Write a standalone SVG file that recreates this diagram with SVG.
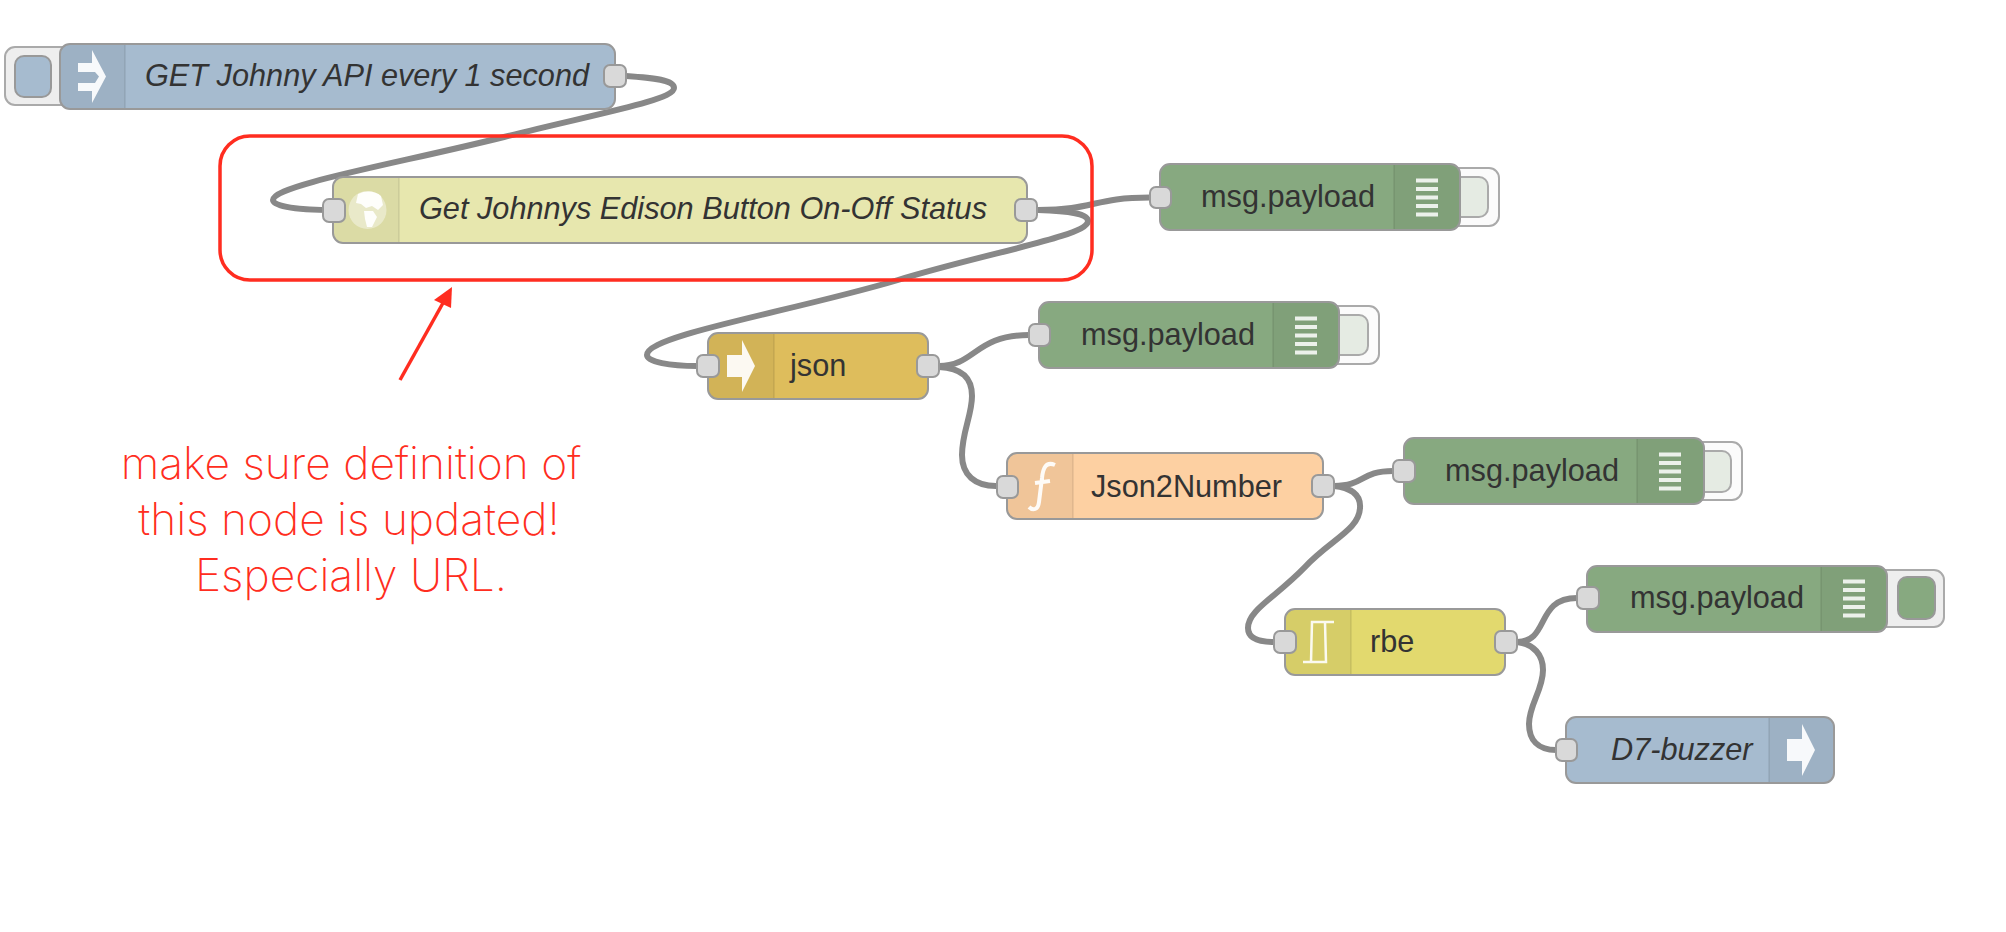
<svg xmlns="http://www.w3.org/2000/svg" xmlns:xlink="http://www.w3.org/1999/xlink" width="2006" height="932" viewBox="0 0 2006 932">
<style>
  .body { stroke: #999; stroke-width: 2; }
  .shade { fill: #000; fill-opacity: .05; }
  .sep { stroke: #000; stroke-opacity: .09; stroke-width: 1.5; }
  .port { fill: #d9d9d9; stroke: #999; stroke-width: 2; }
  .wire { fill: none; stroke: #888; stroke-width: 6; stroke-linecap: round; }
  .label { font-family: "Liberation Sans", Arial, sans-serif; font-size: 30.7px; fill: #333; }
  .it { font-style: italic; }
  .icon { fill: #fff; fill-opacity: .92; }
  .tail { fill: #fbfbfb; stroke: #aaa; stroke-width: 2; }
  .tail-in { fill: #e5ebe3; stroke: #aaa; stroke-width: 2; }
  .green { fill: #87a980; }
  .blue { fill: #a6bbcf; }
  .note { font-family: Inter, "Liberation Sans", sans-serif; font-weight: 250; font-size: 44.3px; fill: #ff2d20; text-anchor: middle; }
</style>
<defs>
  <g id="bars" fill="#fff" fill-opacity=".85">
    <rect x="-11" y="-18.5" width="22" height="4"/>
    <rect x="-11" y="-10" width="22" height="4"/>
    <rect x="-11" y="-1.5" width="22" height="4"/>
    <rect x="-11" y="7" width="22" height="4"/>
    <rect x="-11" y="15.5" width="22" height="4"/>
  </g>
  <polygon id="arrow" points="-14,-11 1,-11 1,-26 14,0 1,26 1,11 -14,11"/>
</defs>

<g id="connectors">
  <path class="wire" d="M626 76 C655 78 674 80 674 88 C674 100 600 113 504 137 C400 163 273 185 273 200 C273 207 300 210 334 210"/>
  <path class="wire" d="M1038 210 C1095 210 1093 197.500 1150 197.500"/>
  <path class="wire" d="M1038 210 C1070 211 1088 214 1088 221 C1088 236 990 252 898 280 C790 312 647 335 647 355 C647 362 670 366 697 366"/>
  <path class="wire" d="M939 366 C975 366 975 335 1029 335"/>
  <path class="wire" d="M939 367 C962 368 972 378 972 396 C972 415 962 432 962 455 C962 475 975 486 996 486"/>
  <path class="wire" d="M1334 486 C1365 486 1360 471 1393 471"/>
  <path class="wire" d="M1334 486 C1352 488 1361 495 1360 508 C1359 530 1330 540 1305 567 C1275 598 1248 610 1248 628 C1248 638 1258 642 1274 642"/>
  <path class="wire" d="M1517 642 C1550 642 1535 598 1577 598"/>
  <path class="wire" d="M1517 642 C1534 644 1543 655 1543 670 C1543 690 1529 705 1529 724 C1529 740 1538 750 1556 750"/>
</g>

<g id="inject">
  <rect x="5" y="47" width="70" height="58" rx="10" fill="#eee" stroke="#aaa" stroke-width="2"/>
  <rect x="15" y="56" width="36" height="41" rx="9" class="blue" stroke="#999" stroke-width="2"/>
  <rect class="body blue" x="60" y="44" width="555" height="65" rx="10"/>
  <path class="shade" d="M70 45 H125 V108 H70 A9 9 0 0 1 61 99 V54 A9 9 0 0 1 70 45Z"/>
  <line class="sep" x1="125" y1="45" x2="125" y2="108"/>
  <path class="icon" d="M78 63 H92 V50 L106 76.500 L92 103 V91 H78 V83 H95 L99 76.500 L95 72 H78Z"/>
  <text class="label it" x="145" y="86">GET Johnny API every 1 second</text>
  <rect class="port" x="604" y="65" width="22" height="22" rx="6"/>
</g>

<g id="http-request">
  <rect class="body" x="333" y="177" width="694" height="66" rx="10" fill="#e7e7ae"/>
  <path class="shade" d="M343 178 H399 V242 H343 A9 9 0 0 1 334 233 V187 A9 9 0 0 1 343 178Z"/>
  <line class="sep" x1="399" y1="178" x2="399" y2="242"/>
  <circle cx="367.500" cy="210" r="19" fill="#fff" fill-opacity=".4"/>
  <path class="icon" d="M358 194 C366 190 376 191 381 196 L383 205 L378 210 L372 206 L366 208 L361 204 L356 203Z M364 211 L373 211 L377 217 L372 227 L367 227 L365 219Z"/>
  <text class="label it" x="419" y="219">Get Johnnys Edison Button On-Off Status</text>
  <rect class="port" x="323" y="199" width="22" height="23" rx="6"/>
  <rect class="port" x="1015" y="199" width="22" height="22" rx="6"/>
</g>

<g id="debug-status">
  <rect class="tail" x="1440" y="168" width="59" height="58" rx="10"/>
  <rect class="tail-in" x="1440" y="177" width="48" height="40" rx="9"/>
  <rect class="body green" x="1160" y="164" width="300" height="66" rx="10"/>
  <path class="shade" d="M1394 165 H1450 A9 9 0 0 1 1459 174 V220 A9 9 0 0 1 1450 229 H1394Z"/>
  <line class="sep" x1="1394" y1="165" x2="1394" y2="229"/>
  <use href="#bars" x="1427" y="197"/>
  <text class="label" x="1201" y="207">msg.payload</text>
  <rect class="port" x="1150" y="187" width="21" height="21" rx="6"/>
</g>

<g id="json">
  <rect class="body" x="708" y="333" width="220" height="66" rx="10" fill="#debd5c"/>
  <path class="shade" d="M718 334 H774 V398 H718 A9 9 0 0 1 709 389 V343 A9 9 0 0 1 718 334Z"/>
  <line class="sep" x1="774" y1="334" x2="774" y2="398"/>
  <use href="#arrow" x="741" y="366" class="icon"/>
  <text class="label" x="790" y="376">json</text>
  <rect class="port" x="697" y="355" width="22" height="22" rx="6"/>
  <rect class="port" x="917" y="355" width="22" height="22" rx="6"/>
</g>

<g id="debug-json">
  <rect class="tail" x="1320" y="306" width="59" height="58" rx="10"/>
  <rect class="tail-in" x="1320" y="315" width="48" height="40" rx="9"/>
  <rect class="body green" x="1039" y="302" width="300" height="66" rx="10"/>
  <path class="shade" d="M1273 303 H1329 A9 9 0 0 1 1338 312 V358 A9 9 0 0 1 1329 367 H1273Z"/>
  <line class="sep" x1="1273" y1="303" x2="1273" y2="367"/>
  <use href="#bars" x="1306" y="335"/>
  <text class="label" x="1081" y="345">msg.payload</text>
  <rect class="port" x="1029" y="324" width="21" height="22" rx="6"/>
</g>

<g id="function">
  <rect class="body" x="1007" y="453" width="316" height="66" rx="10" fill="#fdd0a2"/>
  <path class="shade" d="M1017 454 H1073 V518 H1017 A9 9 0 0 1 1008 509 V463 A9 9 0 0 1 1017 454Z"/>
  <line class="sep" x1="1073" y1="454" x2="1073" y2="518"/>
  <path d="M1055 465 C1046 461 1043 468 1042 478 L1039 502 C1038 510 1033 511 1029 507 M1035 483 L1050 481" fill="none" stroke="#fff" stroke-opacity=".92" stroke-width="4"/>
  <text class="label" x="1091" y="497">Json2Number</text>
  <rect class="port" x="997" y="476" width="21" height="22" rx="6"/>
  <rect class="port" x="1312" y="475" width="22" height="22" rx="6"/>
</g>

<g id="debug-number">
  <rect class="tail" x="1683" y="442" width="59" height="58" rx="10"/>
  <rect class="tail-in" x="1683" y="451" width="48" height="41" rx="9"/>
  <rect class="body green" x="1404" y="438" width="300" height="66" rx="10"/>
  <path class="shade" d="M1637 439 H1694 A9 9 0 0 1 1703 448 V494 A9 9 0 0 1 1694 503 H1637Z"/>
  <line class="sep" x1="1637" y1="439" x2="1637" y2="503"/>
  <use href="#bars" x="1670" y="471"/>
  <text class="label" x="1445" y="481">msg.payload</text>
  <rect class="port" x="1393" y="460" width="22" height="22" rx="6"/>
</g>

<g id="rbe">
  <rect class="body" x="1285" y="609" width="220" height="66" rx="10" fill="#e2d96e"/>
  <path class="shade" d="M1295 610 H1351 V674 H1295 A9 9 0 0 1 1286 665 V619 A9 9 0 0 1 1295 610Z"/>
  <line class="sep" x1="1351" y1="610" x2="1351" y2="674"/>
  <path d="M1334 622 H1312 L1311 662 H1326 L1325 622 M1311 662 H1303" fill="none" stroke="#fff" stroke-opacity=".9" stroke-width="2.500"/>
  <text class="label" x="1370" y="652">rbe</text>
  <rect class="port" x="1274" y="631" width="22" height="22" rx="6"/>
  <rect class="port" x="1495" y="631" width="22" height="22" rx="6"/>
</g>

<g id="debug-change">
  <rect x="1870" y="570" width="74" height="57" rx="10" fill="#eee" stroke="#aaa" stroke-width="2"/>
  <rect class="green" x="1898" y="577" width="37" height="42" rx="9" stroke="#999" stroke-width="2"/>
  <rect class="body green" x="1587" y="566" width="300" height="66" rx="10"/>
  <path class="shade" d="M1821 567 H1877 A9 9 0 0 1 1886 576 V622 A9 9 0 0 1 1877 631 H1821Z"/>
  <line class="sep" x1="1821" y1="567" x2="1821" y2="631"/>
  <use href="#bars" x="1854" y="598"/>
  <text class="label" x="1630" y="608">msg.payload</text>
  <rect class="port" x="1577" y="587" width="22" height="22" rx="6"/>
</g>

<g id="buzzer">
  <rect class="body blue" x="1566" y="717" width="268" height="66" rx="10"/>
  <path class="shade" d="M1769 718 H1824 A9 9 0 0 1 1833 727 V773 A9 9 0 0 1 1824 782 H1769Z"/>
  <line class="sep" x1="1769" y1="718" x2="1769" y2="782"/>
  <use href="#arrow" x="1801" y="750" class="icon"/>
  <text class="label it" x="1611" y="760">D7-buzzer</text>
  <rect class="port" x="1556" y="739" width="21" height="22" rx="6"/>
</g>

<g id="callout">
  <rect x="220" y="136" width="872" height="144" rx="30" fill="none" stroke="#ff2d20" stroke-width="3.500"/>
  <line x1="400" y1="380" x2="443" y2="303" stroke="#ff2d20" stroke-width="3.500"/>
  <polygon points="452,287 434,300 451,308" fill="#ff2d20"/>
  <text class="note" x="351" y="479">make sure definition of</text>
  <text class="note" x="349" y="535">this node is updated!</text>
  <text class="note" x="351" y="591">Especially URL.</text>
</g>
</svg>
